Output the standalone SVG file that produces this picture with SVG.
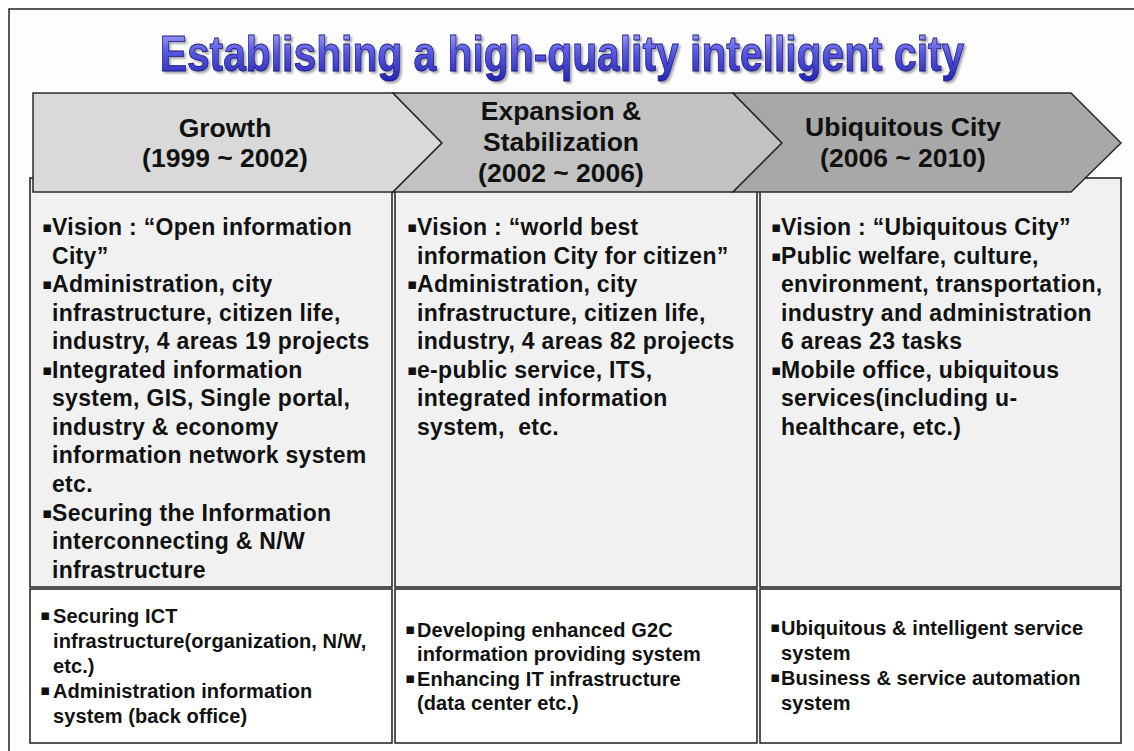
<svg xmlns="http://www.w3.org/2000/svg" width="1134" height="751" viewBox="0 0 1134 751">
  <defs>
    <linearGradient id="titleFill" x1="0" y1="0" x2="0" y2="1">
      <stop offset="0" stop-color="#b4b4ff"/>
      <stop offset="0.45" stop-color="#5a5ae6"/>
      <stop offset="1" stop-color="#2424b4"/>
    </linearGradient>
    <filter id="titleShadow" x="-5%" y="-20%" width="110%" height="150%">
      <feGaussianBlur in="SourceAlpha" stdDeviation="1.2"/>
      <feOffset dx="1.5" dy="2" result="s"/>
      <feComponentTransfer><feFuncA type="linear" slope="0.35"/></feComponentTransfer>
      <feMerge><feMergeNode/><feMergeNode in="SourceGraphic"/></feMerge>
    </filter>
  </defs>
  <style>
    .frame { fill: #fdfdfd; stroke: #222; stroke-width: 1.5; }
    .upper { fill: #f1f1f1; stroke: #2a2a2a; stroke-width: 1.6; }
    .lower { fill: #ffffff; stroke: #2a2a2a; stroke-width: 1.6; }
    .chev { stroke: #2a2a2a; stroke-width: 1.5; stroke-linejoin: miter; }
    .head { font-family: "Liberation Sans", Arial, sans-serif; font-weight: bold; font-size: 26.5px; fill: #111; text-anchor: middle; }
    .body { font-family: "Liberation Sans", Arial, sans-serif; font-weight: bold; font-size: 23px; letter-spacing: 0.3px; fill: #111; }
    .small { font-family: "Liberation Sans", Arial, sans-serif; font-weight: bold; font-size: 20px; letter-spacing: 0.1px; fill: #111; }
    .b { font-family: "DejaVu Sans", sans-serif; font-size: 15px; }
    .title { font-family: "Liberation Sans", Arial, sans-serif; font-weight: bold; font-size: 50px; fill: url(#titleFill); stroke: #1c1c7a; stroke-width: 0.9; text-anchor: middle; }
  </style>

  <!-- page frame -->
  <rect class="frame" x="9" y="9" width="1135" height="760"/>

  <!-- heading, narrowed horizontally -->
  <g id="title" filter="url(#titleShadow)">
    <text class="title" transform="translate(562,71) scale(0.816,1)" x="0" y="0">Establishing a high-quality intelligent city</text>
  </g>

  <!-- column panels -->
  <g id="panels">
    <rect class="upper" x="30" y="178" width="362" height="409"/>
    <rect class="upper" x="395" y="178" width="362" height="409"/>
    <rect class="upper" x="760" y="178" width="361" height="409"/>
    <rect class="lower" x="30" y="589" width="362" height="154"/>
    <rect class="lower" x="395" y="589" width="362" height="154"/>
    <rect class="lower" x="760" y="589" width="361" height="154"/>
  </g>

  <!-- phase chevrons -->
  <g id="phase-growth">
    <path class="chev" fill="#d9d9d9" d="M33,93 L393,93 L442,143 L393,192 L33,192 Z"/>
    <text class="head" x="225" y="137">Growth</text>
    <text class="head" x="225" y="167">(1999 ~ 2002)</text>
  </g>
  <g id="phase-expansion">
    <path class="chev" fill="#c2c2c2" d="M393,93 L733,93 L782,143 L733,192 L393,192 L442,143 Z"/>
    <text class="head" x="561" y="120">Expansion &amp;</text>
    <text class="head" x="561" y="151">Stabilization</text>
    <text class="head" x="561" y="182">(2002 ~ 2006)</text>
  </g>
  <g id="phase-ubiquitous">
    <path class="chev" fill="#a8a8a8" d="M733,93 L1071,93 L1121,143 L1071,192 L733,192 L782,143 Z"/>
    <text class="head" x="903" y="136">Ubiquitous City</text>
    <text class="head" x="903" y="167">(2006 ~ 2010)</text>
  </g>

  <!-- phase 1 details -->
  <g id="growth-details">
    <text class="body" x="42" y="235"><tspan class="b" dy="-3">▪</tspan><tspan x="52" dy="3">Vision : “Open information</tspan></text>
    <text class="body" x="52" y="264">City”</text>
    <text class="body" x="42" y="292"><tspan class="b" dy="-3">▪</tspan><tspan x="52" dy="3">Administration, city</tspan></text>
    <text class="body" x="52" y="321">infrastructure, citizen life,</text>
    <text class="body" x="52" y="349">industry, 4 areas 19 projects</text>
    <text class="body" x="42" y="378"><tspan class="b" dy="-3">▪</tspan><tspan x="52" dy="3">Integrated information</tspan></text>
    <text class="body" x="52" y="406">system, GIS, Single portal,</text>
    <text class="body" x="52" y="435">industry &amp; economy</text>
    <text class="body" x="52" y="463">information network system</text>
    <text class="body" x="52" y="492">etc.</text>
    <text class="body" x="42" y="521"><tspan class="b" dy="-3">▪</tspan><tspan x="52" dy="3">Securing the Information</tspan></text>
    <text class="body" x="52" y="549">interconnecting &amp; N/W</text>
    <text class="body" x="52" y="578">infrastructure</text>
  </g>
  <g id="growth-systems">
    <text class="small" x="40" y="623"><tspan class="b" dy="-3">▪</tspan><tspan x="53" dy="3">Securing ICT</tspan></text>
    <text class="small" x="53" y="648">infrastructure(organization, N/W,</text>
    <text class="small" x="53" y="673">etc.)</text>
    <text class="small" x="40" y="698"><tspan class="b" dy="-3">▪</tspan><tspan x="53" dy="3">Administration information</tspan></text>
    <text class="small" x="53" y="723">system (back office)</text>
  </g>

  <!-- phase 2 details -->
  <g id="expansion-details">
    <text class="body" x="407" y="235"><tspan class="b" dy="-3">▪</tspan><tspan x="417" dy="3">Vision : “world best</tspan></text>
    <text class="body" x="417" y="264">information City for citizen”</text>
    <text class="body" x="407" y="292"><tspan class="b" dy="-3">▪</tspan><tspan x="417" dy="3">Administration, city</tspan></text>
    <text class="body" x="417" y="321">infrastructure, citizen life,</text>
    <text class="body" x="417" y="349">industry, 4 areas 82 projects</text>
    <text class="body" x="407" y="378"><tspan class="b" dy="-3">▪</tspan><tspan x="417" dy="3">e-public service, ITS,</tspan></text>
    <text class="body" x="417" y="406">integrated information</text>
    <text class="body" x="417" y="435" xml:space="preserve">system,  etc.</text>
  </g>
  <g id="expansion-systems">
    <text class="small" x="405" y="637"><tspan class="b" dy="-3">▪</tspan><tspan x="417" dy="3">Developing enhanced G2C</tspan></text>
    <text class="small" x="417" y="661">information providing system</text>
    <text class="small" x="405" y="686"><tspan class="b" dy="-3">▪</tspan><tspan x="417" dy="3">Enhancing IT infrastructure</tspan></text>
    <text class="small" x="417" y="710">(data center etc.)</text>
  </g>

  <!-- phase 3 details -->
  <g id="ubiquitous-details">
    <text class="body" x="771" y="235"><tspan class="b" dy="-3">▪</tspan><tspan x="781" dy="3">Vision : “Ubiquitous City”</tspan></text>
    <text class="body" x="771" y="264"><tspan class="b" dy="-3">▪</tspan><tspan x="781" dy="3">Public welfare, culture,</tspan></text>
    <text class="body" x="781" y="292">environment, transportation,</text>
    <text class="body" x="781" y="321">industry and administration</text>
    <text class="body" x="781" y="349">6 areas 23 tasks</text>
    <text class="body" x="771" y="378"><tspan class="b" dy="-3">▪</tspan><tspan x="781" dy="3">Mobile office, ubiquitous</tspan></text>
    <text class="body" x="781" y="406">services(including u-</text>
    <text class="body" x="781" y="435">healthcare, etc.)</text>
  </g>
  <g id="ubiquitous-systems">
    <text class="small" x="770" y="635"><tspan class="b" dy="-3">▪</tspan><tspan x="781" dy="3">Ubiquitous &amp; intelligent service</tspan></text>
    <text class="small" x="781" y="660">system</text>
    <text class="small" x="770" y="685"><tspan class="b" dy="-3">▪</tspan><tspan x="781" dy="3">Business &amp; service automation</tspan></text>
    <text class="small" x="781" y="710">system</text>
  </g>
</svg>
